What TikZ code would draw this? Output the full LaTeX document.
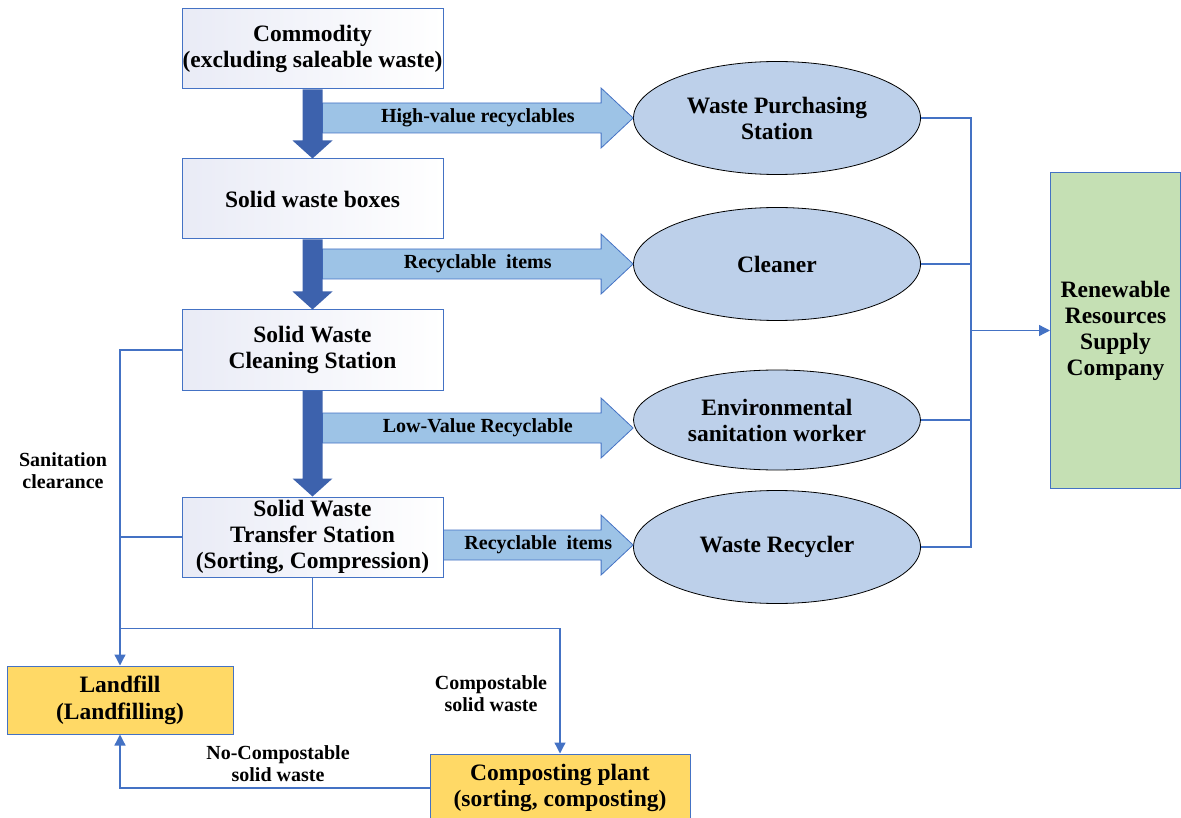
\documentclass[tikz,border=0pt]{standalone}
\usepackage{fontspec}
\setmainfont{Liberation Serif}
\usetikzlibrary{calc,arrows.meta,shapes.geometric}

\definecolor{edgeblue}{HTML}{4472C4}
\definecolor{boxtint}{HTML}{E9EBF6}
\definecolor{darkflow}{HTML}{3D62AD}
\definecolor{lightflow}{HTML}{9DC3E6}
\definecolor{ellfill}{HTML}{BDD0EA}
\definecolor{greenfill}{HTML}{C5E0B4}
\definecolor{yellowfill}{HTML}{FFD966}

\newcommand\mainfont{\fontsize{23.5}{26}\selectfont\bfseries}
\newcommand\labelfont{\fontsize{20}{22}\selectfont\bfseries}

% thick vertical arrow from the bottom of one box to the top of the next
\newcommand\flowdown[2]{%
  \fill[darkflow] ($(#1.south)+(-10,0)$) -- ($(#2.north)+(-10,-18)$)
    -- ($(#2.north)+(-20,-18)$) -- (#2.north) -- ($(#2.north)+(20,-18)$)
    -- ($(#2.north)+(10,-18)$) -- ($(#1.south)+(10,0)$) -- cycle;}

% wide horizontal arrow from start #1 to tip #2 (same height), labelled #3
\newcommand\flowright[3]{%
  \filldraw[lightflow] ($(#1)+(0,-15)$) -- ($(#2)+(-32,-15)$)
    -- ($(#2)+(-32,-30)$) -- (#2) -- ($(#2)+(-32,30)$)
    -- ($(#2)+(-32,15)$) -- ($(#1)+(0,15)$) -- cycle;
  \node[font=\labelfont] at ($(#1)!0.5!(#2)$) {#3};}

\begin{document}
\begin{tikzpicture}[x=1pt,y=-1pt,
  stepbox/.style={draw=edgeblue, line width=1pt, left color=boxtint,
    right color=white, minimum width=261pt, minimum height=80pt,
    inner sep=0pt, align=center, font=\mainfont},
  actor/.style={ellipse, draw=black, line width=0.8pt, fill=ellfill,
    minimum width=287pt, minimum height=113pt, inner sep=0pt,
    align=center, font=\mainfont},
  endbox/.style={draw=edgeblue, line width=1pt, inner sep=0pt,
    align=center, font=\mainfont},
  lightflow/.style={fill=lightflow, draw=edgeblue, line width=0.8pt},
  link/.style={draw=edgeblue, line width=1.3pt},
  tip/.style={-{Triangle[length=11pt,width=11pt]}},
  note/.style={align=center, font=\labelfont}]

\useasboundingbox (0,0) rectangle (1181,818);

% chain of stations
\node[stepbox] (commodity) at (312.5,49) {Commodity\\(excluding saleable waste)};
\node[stepbox] (bins) at (312.5,199) {Solid waste boxes};
\node[stepbox] (clean) at (312.5,350) {Solid Waste\\Cleaning Station};
\node[stepbox] (transfer) at (312.5,537) {Solid Waste\\Transfer Station\\(Sorting, Compression)};

% recyclers
\node[actor] (buy) at (777,118) {Waste Purchasing\\Station};
\node[actor] (cleaner) at (777,264) {Cleaner};
\node[actor, minimum height=100pt] (worker) at (777,420) {Environmental\\sanitation worker};
\node[actor] (recycler) at (777,547) {Waste Recycler};

% end points
\node[endbox, fill=greenfill, minimum width=130pt, minimum height=315pt]
  (company) at (1115.5,330.5) {Renewable\\Resources\\Supply\\Company};
\node[endbox, fill=yellowfill, minimum width=226pt, minimum height=68pt,
  font=\fontsize{23.5}{27}\selectfont\bfseries]
  (landfill) at (120,700) {Landfill\\(Landfilling)};
\node[endbox, fill=yellowfill, minimum width=260pt, minimum height=68pt]
  (compost) at (560,788) {Composting plant\\(sorting, composting)};

% wide arrows towards the recyclers
\coordinate (shaft) at ($(commodity.south)+(10,0)$);
\coordinate (t1) at (buy.west);
\coordinate (t2) at (cleaner.west);
\coordinate (t3) at ($(worker.west)+(0,8)$);
\coordinate (t4) at ($(recycler.west)+(0,-2)$);
\coordinate (s1) at (t1 -| shaft);
\coordinate (s2) at (t2 -| shaft);
\coordinate (s3) at (t3 -| shaft);
\coordinate (s4) at (t4 -| transfer.east);
\flowright{s1}{t1}{High-value recyclables}
\flowright{s2}{t2}{Recyclable\ \ items}
\flowright{s3}{t3}{Low-Value Recyclable}
\flowright{s4}{t4}{Recyclable\ \ items}

% thick arrows down the chain
\flowdown{commodity}{bins}
\flowdown{bins}{clean}
\flowdown{clean}{transfer}

% collection bus to the supply company
\coordinate (bus) at (971,0);
\draw[link] (buy.east) -- (buy.east -| bus) -- (recycler.east -| bus) -- (recycler.east);
\draw[link] (cleaner.east) -- (cleaner.east -| bus);
\draw[link] (worker.east) -- (worker.east -| bus);
\draw[link, tip] (company.west -| bus) -- (company.west);

% disposal routes
\coordinate (split) at ($(transfer.south)+(0,51)$);
\draw[link, tip] (clean.west) -- (clean.west -| landfill.north) -- (landfill.north);
\draw[link] (transfer.west) -- (transfer.west -| landfill.north);
\draw[link] (transfer.south) -- (split);
\draw[link, tip] (split -| landfill.north) -- (split -| compost.north) -- (compost.north);
\draw[link, tip] (compost.west) -- (compost.west -| landfill.south) -- (landfill.south);

% route labels
\node[note] (sanlabel) at (63,471) {Sanitation\\clearance};
\node[note] (complabel) at (491,694) {Compostable\\solid waste};
\node[note] (noncomplabel) at (278,764) {No-Compostable\\solid waste};
\end{tikzpicture}
\end{document}
